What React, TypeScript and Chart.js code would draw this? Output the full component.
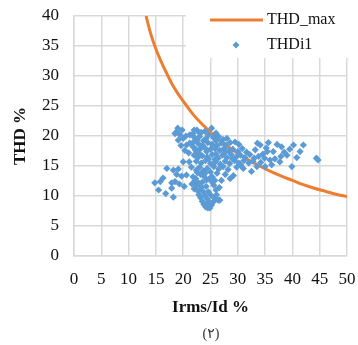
import React, { useEffect, useRef } from 'react';
import { Chart, registerables } from 'chart.js';

Chart.register(...registerables);

// ---- Data ----
const xMin = 0, xMax = 50, xStep = 5;
const yMin = 0, yMax = 40, yStep = 5;

const thdMaxX = [13.2, 14, 15, 16, 17, 18, 20, 22, 24, 26, 28, 30, 32, 34, 36, 38, 40, 42, 44, 46, 48, 50];
const thdMaxY = [40, 37.2, 34.5, 32.3, 30.4, 28.6, 25.8, 23.4, 21.5, 19.8, 18.4, 17.1, 16.0, 15.0, 14.1, 13.3, 12.6, 11.9, 11.3, 10.8, 10.3, 9.9];

const leftLowCluster: number[][] = [
  [14.8, 12.2], [15.8, 12.4], [16.8, 10.4], [18.2, 9.8], [17.0, 14.6], [18.2, 14.3], [19.1, 14.5],
  [18.8, 13.6], [19.7, 13.3], [20.6, 13.5], [17.9, 12.2], [18.5, 12.4], [17.9, 11.3], [20.0, 15.7],
  [21.1, 15.7], [16.3, 13.0], [19.3, 12.0], [20.2, 11.6], [15.5, 11.0], [21.5, 14.8],
];

const upperLeftCluster: number[][] = [
  [18.8, 20.7], [19.4, 20.2], [18.5, 20.4], [19.1, 19.3], [20.0, 19.6], [20.6, 18.5], [21.2, 18.8],
  [21.8, 18.2], [21.2, 20.2], [21.8, 20.4], [22.5, 19.3], [19.0, 21.3], [19.8, 21.0], [20.5, 20.0],
  [22.0, 21.0], [23.0, 20.5], [19.6, 18.4], [20.3, 17.6], [21.0, 17.2], [22.3, 17.8],
];

const lowerCluster: number[][] = [
  [21.8, 13.2], [22.1, 12.5], [22.4, 11.8], [22.0, 11.2], [22.6, 10.9], [22.9, 10.2], [23.2, 9.7],
  [23.5, 9.1], [23.8, 8.6], [24.1, 8.2], [24.5, 8.0], [24.9, 8.0], [25.2, 8.5], [25.5, 9.0],
  [25.8, 9.6], [26.1, 10.2], [26.4, 9.3], [26.0, 11.0], [25.6, 11.8], [25.2, 12.4], [24.8, 12.9],
  [24.3, 12.7], [23.8, 13.3], [23.2, 13.6], [22.6, 13.9], [22.3, 12.9], [22.8, 12.2], [23.3, 11.5],
  [23.6, 10.8], [24.0, 10.1], [24.4, 9.5], [24.8, 9.0], [23.0, 11.0], [23.5, 12.3], [24.2, 11.6],
  [24.6, 10.7], [25.1, 10.1], [24.0, 13.8], [25.3, 13.2], [22.4, 14.3], [23.7, 14.2], [25.8, 12.6],
  [26.6, 11.4], [21.6, 12.0], [24.3, 8.7],
];

const mainCluster: number[][] = [
  [22.5, 21.0], [24.0, 20.8], [25.2, 21.3], [26.0, 20.5], [24.6, 20.2], [23.3, 20.6],
  [22.0, 19.8], [23.0, 19.9], [24.2, 19.6], [25.5, 19.8], [26.5, 19.9], [27.3, 19.4], [28.0, 19.6],
  [26.0, 19.2], [23.7, 19.2],
  [21.8, 18.9], [22.8, 18.7], [23.6, 18.4], [24.5, 18.9], [25.3, 18.6], [26.2, 18.4], [27.0, 18.8],
  [27.8, 18.5], [28.6, 18.9], [29.5, 19.0], [30.2, 18.6], [24.0, 18.0], [25.8, 17.9],
  [22.3, 17.6], [23.2, 17.9], [24.3, 17.4], [25.0, 17.8], [26.7, 17.6], [27.5, 17.9], [28.3, 17.5],
  [29.1, 17.8], [30.0, 17.4], [30.8, 17.9], [31.6, 17.3], [22.9, 17.1], [26.0, 17.0],
  [22.0, 16.8], [22.7, 16.4], [23.5, 16.7], [24.4, 16.5], [25.3, 16.9], [26.4, 16.3], [27.2, 16.8],
  [28.0, 16.4], [28.8, 16.9], [29.7, 16.5], [30.5, 16.8], [31.3, 16.4], [32.2, 16.9], [33.0, 16.3],
  [27.6, 17.2], [25.8, 16.1],
  [22.4, 15.8], [23.3, 15.5], [24.1, 15.9], [25.0, 15.4], [25.9, 15.7], [26.8, 15.3], [27.7, 15.8],
  [28.5, 15.4], [29.4, 15.9], [30.2, 15.5], [31.1, 15.9], [32.0, 15.5], [32.8, 15.8], [24.6, 16.2],
  [29.0, 16.2],
  [23.0, 14.8], [24.4, 14.6], [25.6, 14.9], [26.5, 14.5], [27.3, 14.9], [28.2, 14.4], [29.8, 14.8],
  [31.0, 14.6], [30.5, 15.2],
  [25.0, 14.0], [26.2, 13.8], [27.7, 13.6], [28.6, 12.9], [27.0, 12.6], [29.2, 13.4], [26.7, 9.3],
];

const rightCluster: number[][] = [
  [33.2, 17.7], [34.1, 18.5], [33.5, 14.9], [32.5, 14.1], [35.0, 14.9], [35.9, 16.0], [36.5, 17.4],
  [38.0, 18.2], [37.7, 15.7], [39.0, 16.8], [41.4, 17.4], [39.9, 14.9], [40.2, 18.5], [42.0, 18.5],
  [44.4, 16.3], [44.7, 16.0], [33.8, 16.6], [34.6, 17.0], [35.2, 18.0], [35.6, 18.9], [34.2, 15.6],
  [36.8, 16.2], [37.2, 18.6], [38.5, 17.3], [36.2, 15.2], [34.9, 16.3], [33.6, 18.8], [35.4, 17.4],
  [37.9, 16.6], [39.5, 17.8], [40.8, 16.4],
];

const seriesNames = ['THD_max', 'THDi1'];
const xTitle = 'Irms/Id %';
const yTitle = 'THD %';
const caption = '(\u0662)';

const ORANGE = '#ED7D31';
const BLUE = '#5B9BD5';
const GRID = '#d9d9d9';
const SERIF = "'Liberation Serif', 'Times New Roman', serif";

export default function App() {
  const ref = useRef<HTMLCanvasElement | null>(null);

  useEffect(() => {
    document.body.style.margin = '0';
    const canvas = ref.current;
    if (!canvas) return;

    const scatterPts = [...leftLowCluster, ...upperLeftCluster, ...lowerCluster, ...mainCluster, ...rightCluster]
      .map(([x, y]) => ({ x, y }));
    const linePts = thdMaxX.map((x, i) => ({ x, y: thdMaxY[i] }));

    const overlay = {
      id: 'overlay',
      afterDraw(chart: any) {
        const ctx = chart.ctx as CanvasRenderingContext2D;
        ctx.save();
        // legend box
        ctx.fillStyle = '#ffffff';
        ctx.fillRect(186, 0, 172, 58);
        ctx.strokeStyle = ORANGE;
        ctx.lineWidth = 3;
        ctx.beginPath();
        ctx.moveTo(210, 20);
        ctx.lineTo(263, 20);
        ctx.stroke();
        ctx.fillStyle = BLUE;
        ctx.beginPath();
        ctx.moveTo(236, 41.5);
        ctx.lineTo(239.5, 45);
        ctx.lineTo(236, 48.5);
        ctx.lineTo(232.5, 45);
        ctx.closePath();
        ctx.fill();
        ctx.fillStyle = '#111';
        ctx.font = `16px ${SERIF}`;
        ctx.textBaseline = 'middle';
        ctx.textAlign = 'left';
        ctx.fillText(seriesNames[0], 267, 20);
        ctx.fillText(seriesNames[1], 267, 45);
        // caption
        ctx.fillStyle = '#333';
        ctx.font = `14px ${SERIF}, 'DejaVu Sans'`;
        ctx.textAlign = 'center';
        ctx.fillText(caption, 211, 334);
        ctx.restore();
      },
    };

    const chart = new Chart(canvas, {
      type: 'scatter',
      data: {
        datasets: [
          {
            label: seriesNames[1],
            data: scatterPts,
            pointStyle: 'rectRot',
            pointRadius: 3.6,
            borderWidth: 0,
            backgroundColor: BLUE,
            borderColor: BLUE,
          },
          {
            label: seriesNames[0],
            data: linePts,
            showLine: true,
            pointRadius: 0,
            borderColor: ORANGE,
            backgroundColor: ORANGE,
            borderWidth: 3,
            cubicInterpolationMode: 'monotone',
          } as any,
        ],
      },
      options: {
        animation: false,
        responsive: false,
        layout: { padding: { top: 16, right: 11, left: 0, bottom: 0 } },
        plugins: { legend: { display: false }, tooltip: { enabled: false } },
        scales: {
          x: {
            type: 'linear',
            min: xMin,
            max: xMax,
            afterFit: (s: any) => { s.height = 89; s.paddingLeft = 0; s.paddingRight = 0; },
            ticks: { stepSize: xStep, padding: 13, color: '#111', font: { family: SERIF, size: 17 } },
            grid: { color: GRID, lineWidth: 1.5, drawTicks: false },
            border: { color: GRID, width: 1.5 },
            title: {
              display: true,
              text: xTitle,
              color: '#111',
              font: { family: SERIF, size: 17, weight: 'bold' },
              padding: { top: 0, bottom: 27 },
            },
          },
          y: {
            type: 'linear',
            min: yMin,
            max: yMax,
            afterFit: (s: any) => { s.width = 74; s.paddingTop = 0; s.paddingBottom = 0; },
            ticks: { stepSize: yStep, padding: 15, color: '#111', font: { family: SERIF, size: 17 } },
            grid: { color: GRID, lineWidth: 1.5, drawTicks: false },
            border: { color: GRID, width: 1.5 },
            title: {
              display: true,
              text: yTitle,
              color: '#111',
              font: { family: SERIF, size: 17, weight: 'bold' },
              padding: { top: 10, bottom: 0 },
            },
          },
        },
      },
      plugins: [overlay],
    });

    return () => chart.destroy();
  }, []);

  return (
    <div style={{ width: 358, height: 345, background: '#fff' }}>
      <canvas ref={ref} width={358} height={345} style={{ display: 'block' }} />
    </div>
  );
}
